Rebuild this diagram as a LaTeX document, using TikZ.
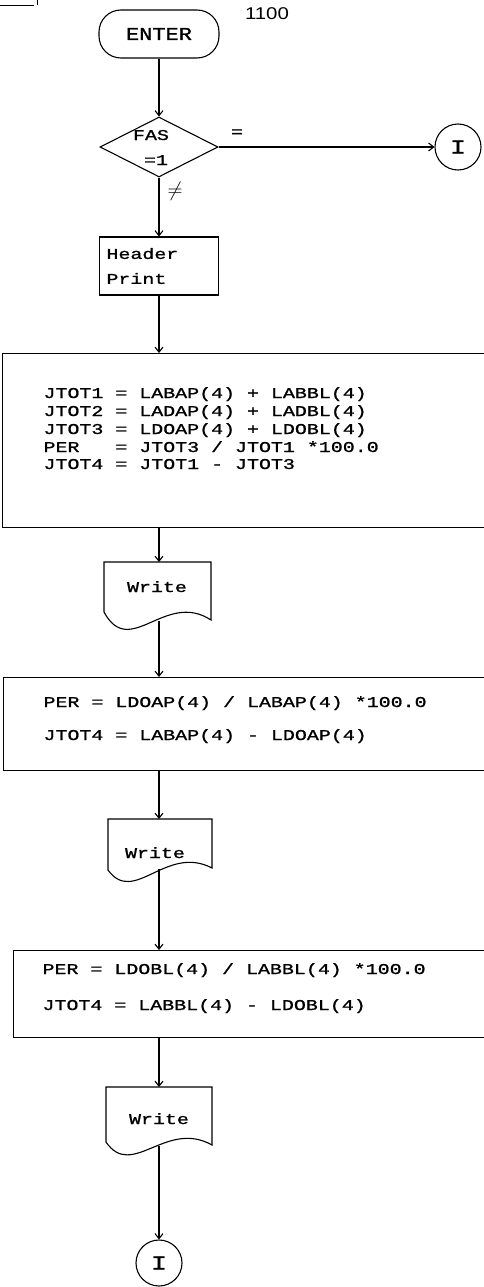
\documentclass[tikz,border=0pt]{standalone}
\usepackage{fontspec}
\usetikzlibrary{shapes.geometric,arrows.meta}
\newfontfamily\tw[FakeStretch=1.33,FakeBold=1.2]{Liberation Mono}
\newfontfamily\twe[FakeStretch=1.22,FakeBold=1.2]{Liberation Mono}
\newfontfamily\sfn[FakeStretch=1.2]{Liberation Sans}
\begin{document}
\begin{tikzpicture}[x=1pt,y=-1pt,
  line width=1.1pt,
  flow/.style={draw, line width=1.1pt, -{Straight Barb[length=5pt,width=8pt]}},
  box/.style={draw, rectangle, inner sep=0pt},
  code/.style={anchor=base west, inner sep=0pt, font=\tw\fontsize{15}{18}\selectfont},
  wtxt/.style={anchor=base, inner sep=0pt, font=\tw\fontsize{15}{18}\selectfont},
  conn/.style={draw, circle, minimum size=46pt, inner sep=0pt, font=\tw\fontsize{20}{20}\selectfont},
  lab/.style={inner sep=0pt},
]
\useasboundingbox (0,0) rectangle (483,1287);

% corner fragment
\draw[line width=0.8pt] (0,5) -- (34,5);
\draw[line width=0.8pt] (37,0) -- (37,5);

% ENTER
\node[draw, rectangle, rounded corners=22pt, minimum width=120pt, minimum height=48pt,
      inner sep=0pt, font=\twe\fontsize{18}{18}\selectfont] (enter) at (159,34) {ENTER};
\node[lab, font=\sfn\fontsize{17}{17}\selectfont] (num) at (267,14) {1100};

% decision
\node[draw, diamond, minimum width=118pt, minimum height=60pt, inner sep=0pt] (dec) at (159,147) {};
\node[lab, anchor=base, font=\tw\fontsize{15}{18}\selectfont] (fas) at (151,140) {FAS};
\node[lab, anchor=base, font=\tw\fontsize{15}{18}\selectfont] (eq1) at (156,165) {=1};
\node[lab, font=\tw\fontsize{15}{18}\selectfont] (eqlab) at (237,133) {=};
\node[lab, font=\fontsize{22}{22}\selectfont] (nelab) at (175,191) {$\neq$};

% connector circle I (right)
\node[conn] (c1) at (458,147) {I};

% header print
\node[box, minimum width=119pt, minimum height=58pt, text width=105pt, align=left,
      inner xsep=7pt, font=\tw\fontsize{15}{25}\selectfont] (hdr) at (159,266) {Header\\Print};

% box 1
\node[box, anchor=north west, minimum width=488pt, minimum height=174pt] (b1) at (2,353) {};
\node[code] (l11) at (43,398) {JTOT1 = LABAP(4) + LABBL(4)};
\node[code] (l12) at (43,416) {JTOT2 = LADAP(4) + LADBL(4)};
\node[code] (l13) at (43,434) {JTOT3 = LDOAP(4) + LDOBL(4)};
\node[code] (l14) at (43,452) {PER~~~= JTOT3 / JTOT1 *100.0};
\node[code] (l15) at (43,469) {JTOT4 = JTOT1 - JTOT3};

% write 1
\draw (104,562) -- (211,562) -- (211,620) .. controls (165,590) and (130,660) .. (104,612) -- cycle;
\node[wtxt] (w1) at (157,592) {Write};
\coordinate (w1t) at (159,562);
\coordinate (w1b) at (159,621);

% box 2
\node[box, anchor=north west, minimum width=488pt, minimum height=93pt] (b2) at (3,677) {};
\node[code] (l21) at (43,707) {PER = LDOAP(4) / LABAP(4) *100.0};
\node[code] (l22) at (43,740) {JTOT4 = LABAP(4) - LDOAP(4)};

% write 2
\draw (108,819) -- (212,819) -- (212,868) .. controls (166,844) and (134,906) .. (108,870) -- cycle;
\node[wtxt] (w2) at (155,858) {Write};
\coordinate (w2t) at (159,819);
\coordinate (w2b) at (159,869);

% box 3
\node[box, anchor=north west, minimum width=478pt, minimum height=87pt] (b3) at (13,950) {};
\node[code] (l31) at (42,974) {PER = LDOBL(4) / LABBL(4) *100.0};
\node[code] (l32) at (42,1010) {JTOT4 = LABBL(4) - LDOBL(4)};

% write 3
\draw (106,1087) -- (212,1087) -- (212,1145) .. controls (166,1119) and (132,1180) .. (106,1142) -- cycle;
\node[wtxt] (w3) at (159,1124) {Write};
\coordinate (w3t) at (159,1087);
\coordinate (w3b) at (159,1146);

% connector circle I (bottom)
\node[conn] (c2) at (159,1263) {I};

% connectors
\draw[flow] (enter) -- (dec);
\draw[flow] (dec.east) -- (c1);
\draw[flow] (dec) -- (hdr);
\draw[flow] (hdr) -- (hdr |- b1.north);
\draw[flow] (b1.south -| w1t) -- (w1t);
\draw[flow] (w1b) -- (w1b |- b2.north);
\draw[flow] (b2.south -| w2t) -- (w2t);
\draw[flow] (w2b) -- (w2b |- b3.north);
\draw[flow] (b3.south -| w3t) -- (w3t);
\draw[flow] (w3b) -- (c2);
\end{tikzpicture}
\end{document}
